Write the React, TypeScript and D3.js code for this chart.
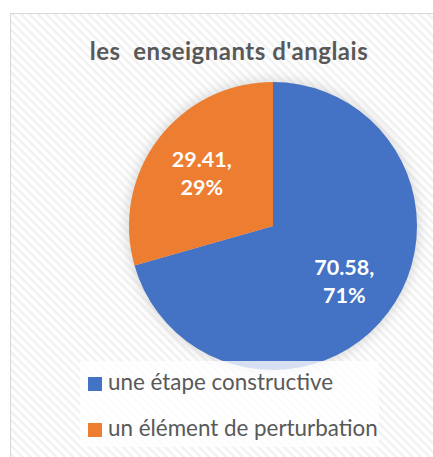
import { useEffect, useRef } from "react";
import * as d3 from "d3";

const categories = ["une étape constructive", "un élément de perturbation"];
const values = [70.58, 29.41];
const percentLabels = ["71%", "29%"];
const colors = ["#4472c4", "#ed7d31"];
const title = "les  enseignants d'anglais";

export default function App() {
  const ref = useRef<SVGSVGElement>(null);

  useEffect(() => {
    const width = 433, height = 457;
    const svg = d3.select(ref.current);
    svg.selectAll("*").remove();
    svg.attr("width", width).attr("height", height);

    const defs = svg.append("defs");
    const pat = defs
      .append("pattern")
      .attr("id", "stripes")
      .attr("patternUnits", "userSpaceOnUse")
      .attr("width", 6)
      .attr("height", 6)
      .attr("patternTransform", "rotate(45)");
    pat.append("rect").attr("width", 6).attr("height", 6).attr("fill", "#ffffff");
    pat.append("rect").attr("width", 6).attr("height", 2.5).attr("fill", "#f1f1f1");

    const blur = defs.append("filter").attr("id", "shadow").attr("x", "-20%").attr("y", "-20%").attr("width", "140%").attr("height", "140%");
    blur.append("feGaussianBlur").attr("stdDeviation", 6);

    // chart frame
    svg
      .append("rect")
      .attr("x", 10.5)
      .attr("y", 13.5)
      .attr("width", 440)
      .attr("height", 460)
      .attr("fill", "url(#stripes)")
      .attr("stroke", "#d9d9d9")
      .attr("stroke-width", 1);

    svg
      .append("text")
      .attr("x", 229)
      .attr("y", 60)
      .attr("text-anchor", "middle")
      .attr("font-family", "Lato, 'Open Sans', sans-serif")
      .attr("font-weight", "bold")
      .attr("font-size", 24)
      .attr("letter-spacing", 0.5)
      .attr("fill", "#595959")
      .style("white-space", "pre")
      .text(title);

    const cx = 273, cy = 226, r = 144;
    const g = svg.append("g").attr("transform", `translate(${cx},${cy})`);

    g.append("circle").attr("r", r + 2).attr("fill", "#bfbfbf").attr("opacity", 0.6).attr("filter", "url(#shadow)");

    const pie = d3.pie<number>().sort(null).value((d) => d);
    const arcs = pie(values);
    const arc = d3.arc<d3.PieArcDatum<number>>().innerRadius(0).outerRadius(r);

    g.selectAll("path.slice")
      .data(arcs)
      .enter()
      .append("path")
      .attr("class", "slice")
      .attr("d", arc)
      .attr("fill", (_, i) => colors[i]);

    const labelArc = d3.arc<d3.PieArcDatum<number>>().innerRadius(r * 0.62).outerRadius(r * 0.62);
    const labels = g
      .selectAll("text.lbl")
      .data(arcs)
      .enter()
      .append("text")
      .attr("class", "lbl")
      .attr("text-anchor", "middle")
      .attr("font-family", "Lato, 'Open Sans', sans-serif")
      .attr("font-weight", "bold")
      .attr("font-size", 21.5)
      .attr("fill", "#ffffff")
      .attr("transform", (d) => {
        const [x, y] = labelArc.centroid(d);
        return `translate(${x},${y})`;
      });
    labels.append("tspan").attr("x", 0).attr("dy", -5).text((d) => `${d.data},`);
    labels.append("tspan").attr("x", 0).attr("dy", 28).text((_, i) => percentLabels[i]);

    // legend
    const legend = svg.append("g");
    legend
      .append("rect")
      .attr("x", 80)
      .attr("y", 361)
      .attr("width", 299)
      .attr("height", 86)
      .attr("fill", "#ffffff")
      .attr("opacity", 0.78);

    const rows = legend
      .selectAll("g.row")
      .data(categories)
      .enter()
      .append("g")
      .attr("class", "row")
      .attr("transform", (_, i) => `translate(88,${377 + i * 46})`);
    rows.append("rect").attr("width", 14).attr("height", 14).attr("fill", (_, i) => colors[i]);
    rows
      .append("text")
      .attr("x", 20)
      .attr("y", 13)
      .attr("font-family", "Lato, 'Open Sans', sans-serif")
      .attr("font-size", 22.4)
      .attr("fill", "#595959")
      .text((d) => d);
  }, []);

  return <svg ref={ref} style={{ position: "absolute", left: 0, top: 0 }}></svg>;
}
